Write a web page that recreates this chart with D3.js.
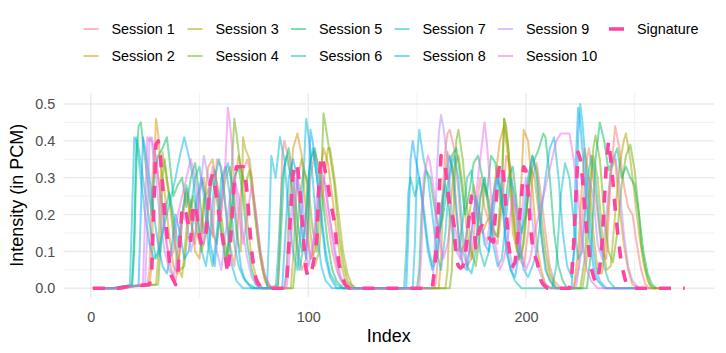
<!DOCTYPE html>
<html>
<head>
<meta charset="utf-8">
<script src="https://cdn.jsdelivr.net/npm/d3@7"></script>
<style>
  body { margin: 0; background: #fff; }
  svg text { font-family: "Liberation Sans", Arial, sans-serif; }
</style>
</head>
<body>
<svg id="chart" width="726" height="353"></svg>
<script>
// ---- data (index, intensity) ----
const seriesNames = ["Session 1", "Session 2", "Session 3", "Session 4", "Session 5",
                     "Session 6", "Session 7", "Session 8", "Session 9", "Session 10", "Signature"];

const session1 = [[1,0],[12,0],[16,0.004],[26,0.008],[27,0.05],[28,0.25],[29,0.38],[30,0.36],[31,0.3],[33,0.22],[35,0.12],[37,0.05],[39,0.02],[41,0.1],[42,0.2],[44,0.27],[46,0.18],[48,0.12],[50,0.26],[52,0.3],[54,0.17],[56,0.14],[58,0.35],[60,0.33],[62,0.22],[64,0.12],[66,0.06],[68,0.2],[70,0.32],[72,0.35],[74,0.3],[76,0.18],[78,0.08],[80,0.02],[82,0],[86,0.01],[87,0.15],[88,0.36],[89,0.4],[91,0.35],[93,0.25],[95,0.12],[97,0.05],[99,0.08],[101,0.3],[103,0.37],[105,0.33],[107,0.25],[109,0.18],[111,0.1],[113,0.05],[115,0.02],[118,0],[158,0],[159,0.04],[160,0.12],[162,0.28],[163,0.38],[164,0.42],[165,0.43],[167,0.38],[169,0.26],[171,0.1],[173,0.06],[175,0.08],[177,0.2],[179,0.3],[181,0.22],[183,0.18],[185,0.14],[187,0.12],[189,0.22],[191,0.36],[193,0.33],[195,0.2],[197,0.08],[199,0.06],[201,0.15],[203,0.3],[205,0.34],[207,0.25],[209,0.15],[211,0.06],[213,0.02],[216,0],[222,0],[224,0.05],[226,0.2],[228,0.35],[229,0.38],[231,0.3],[233,0.2],[235,0.1],[237,0.08],[239,0.3],[241,0.44],[243,0.38],[245,0.28],[247,0.22],[249,0.2],[251,0.12],[253,0.05],[255,0.01],[257,0],[262,0]];
const session2 = [[1,0],[14,0],[18,0.005],[27,0.01],[28,0.06],[29,0.3],[30,0.46],[31,0.42],[32,0.34],[34,0.26],[36,0.15],[38,0.06],[40,0.04],[42,0.18],[44,0.26],[46,0.2],[48,0.1],[50,0.08],[52,0.22],[54,0.33],[56,0.35],[58,0.28],[60,0.16],[62,0.07],[64,0.12],[66,0.28],[68,0.36],[70,0.3],[72,0.18],[74,0.08],[76,0.03],[79,0],[89,0],[90,0.04],[91,0.2],[93,0.38],[95,0.42],[97,0.36],[99,0.2],[101,0.08],[103,0.1],[105,0.28],[107,0.38],[109,0.34],[111,0.25],[113,0.15],[115,0.07],[117,0.02],[120,0],[160,0],[161,0.08],[162,0.25],[164,0.37],[166,0.33],[168,0.2],[170,0.1],[172,0.12],[174,0.2],[176,0.28],[178,0.2],[180,0.15],[182,0.18],[184,0.2],[186,0.3],[188,0.4],[190,0.44],[192,0.35],[194,0.15],[196,0.1],[198,0.3],[199,0.43],[201,0.4],[203,0.27],[205,0.12],[207,0.05],[209,0.01],[212,0],[222,0],[224,0.1],[226,0.3],[227,0.38],[229,0.3],[231,0.15],[233,0.05],[235,0.04],[237,0.15],[239,0.32],[241,0.35],[243,0.22],[245,0.12],[247,0.05],[249,0.01],[252,0],[260,0]];
const session3 = [[1,0],[15,0],[19,0.006],[30,0.01],[31,0.08],[32,0.28],[33,0.37],[34,0.33],[36,0.25],[38,0.14],[40,0.06],[42,0.03],[44,0.16],[46,0.24],[48,0.18],[50,0.12],[52,0.24],[54,0.27],[56,0.15],[58,0.12],[60,0.22],[62,0.3],[64,0.33],[66,0.25],[68,0.12],[69,0.1],[70,0.41],[71,0.38],[73,0.35],[74,0.3],[76,0.2],[78,0.1],[80,0.03],[83,0],[92,0],[93,0.08],[95,0.3],[97,0.35],[99,0.3],[101,0.15],[103,0.06],[105,0.1],[107,0.28],[109,0.38],[110,0.38],[112,0.3],[114,0.2],[116,0.1],[118,0.04],[120,0.01],[122,0],[163,0],[164,0.05],[165,0.2],[167,0.33],[169,0.36],[171,0.28],[173,0.15],[175,0.08],[177,0.12],[179,0.24],[181,0.3],[183,0.2],[185,0.15],[187,0.14],[189,0.25],[190,0.46],[192,0.38],[194,0.2],[196,0.1],[198,0.08],[200,0.2],[202,0.33],[204,0.3],[206,0.2],[208,0.1],[210,0.04],[213,0],[226,0],[228,0.08],[230,0.28],[231,0.36],[233,0.3],[235,0.15],[237,0.05],[239,0.06],[241,0.2],[243,0.33],[245,0.4],[246,0.42],[248,0.35],[250,0.25],[252,0.15],[254,0.07],[256,0.02],[258,0],[262,0]];
const session4 = [[1,0],[15,0],[20,0.005],[31,0.01],[32,0.1],[33,0.3],[34,0.35],[35,0.3],[37,0.22],[39,0.12],[41,0.05],[43,0.06],[45,0.18],[47,0.25],[49,0.2],[51,0.1],[53,0.15],[55,0.28],[57,0.32],[59,0.25],[61,0.15],[63,0.08],[65,0.35],[66,0.46],[67,0.42],[69,0.32],[71,0.28],[73,0.32],[75,0.22],[77,0.12],[79,0.05],[81,0.01],[83,0],[93,0],[94,0.06],[96,0.25],[98,0.32],[100,0.28],[102,0.16],[104,0.1],[106,0.3],[107,0.475],[108,0.44],[110,0.36],[112,0.28],[114,0.15],[116,0.07],[118,0.02],[121,0],[165,0],[166,0.05],[167,0.25],[168,0.4],[169,0.43],[171,0.35],[173,0.22],[175,0.1],[177,0.06],[179,0.15],[181,0.28],[183,0.24],[185,0.16],[187,0.14],[189,0.3],[190,0.46],[191,0.44],[193,0.3],[195,0.15],[197,0.08],[199,0.12],[201,0.25],[203,0.36],[205,0.32],[207,0.2],[209,0.1],[211,0.04],[214,0],[225,0],[227,0.08],[229,0.25],[231,0.38],[232,0.415],[234,0.35],[236,0.2],[238,0.1],[240,0.07],[242,0.15],[244,0.28],[246,0.36],[248,0.39],[250,0.32],[252,0.2],[253,0.12],[255,0.05],[257,0.01],[259,0],[262,0]];
const session5 = [[1,0],[10,0],[14,0.005],[19,0.008],[20,0.1],[21,0.35],[22,0.44],[23,0.45],[24,0.4],[26,0.3],[28,0.2],[29,0.3],[31,0.36],[33,0.38],[35,0.41],[36,0.36],[38,0.25],[40,0.28],[42,0.3],[44,0.22],[46,0.3],[48,0.34],[50,0.25],[52,0.15],[54,0.22],[56,0.3],[58,0.24],[60,0.15],[62,0.08],[64,0.15],[66,0.3],[68,0.33],[70,0.25],[72,0.12],[74,0.05],[76,0.01],[79,0],[86,0],[87,0.1],[89,0.33],[91,0.38],[93,0.3],[95,0.18],[97,0.1],[99,0.2],[101,0.35],[103,0.38],[105,0.3],[107,0.22],[109,0.12],[111,0.05],[113,0.02],[116,0],[150,0],[151,0.05],[152,0.2],[154,0.32],[156,0.3],[158,0.22],[160,0.15],[162,0.2],[164,0.28],[166,0.36],[168,0.38],[170,0.3],[172,0.2],[174,0.26],[176,0.34],[178,0.36],[180,0.3],[182,0.25],[184,0.36],[186,0.34],[188,0.25],[190,0.2],[192,0.3],[194,0.33],[196,0.22],[198,0.15],[200,0.2],[202,0.3],[204,0.35],[206,0.38],[208,0.42],[209,0.41],[211,0.3],[213,0.15],[215,0.06],[217,0.02],[219,0],[228,0],[230,0.1],[232,0.35],[234,0.45],[236,0.4],[238,0.32],[240,0.35],[242,0.38],[244,0.3],[246,0.33],[248,0.3],[250,0.28],[252,0.2],[254,0.1],[256,0.04],[258,0.01],[260,0]];
const session6 = [[1,0],[11,0],[15,0.005],[19,0.008],[20,0.15],[21,0.41],[22,0.38],[24,0.3],[26,0.22],[28,0.14],[30,0.08],[32,0.1],[34,0.2],[36,0.26],[38,0.2],[40,0.12],[42,0.2],[44,0.28],[46,0.22],[48,0.3],[50,0.33],[52,0.25],[54,0.12],[56,0.06],[58,0.15],[60,0.3],[62,0.33],[64,0.25],[66,0.12],[68,0.06],[70,0.03],[73,0.01],[76,0],[85,0],[86,0.08],[88,0.3],[90,0.36],[92,0.3],[94,0.15],[96,0.05],[98,0.12],[100,0.3],[102,0.38],[104,0.3],[106,0.2],[108,0.1],[110,0.04],[113,0.01],[116,0],[144,0],[145,0.1],[146,0.26],[147,0.3],[149,0.25],[151,0.3],[153,0.22],[155,0.12],[157,0.06],[159,0.12],[161,0.22],[163,0.28],[165,0.2],[167,0.12],[169,0.1],[171,0.18],[173,0.3],[175,0.32],[177,0.22],[179,0.1],[181,0.06],[183,0.1],[185,0.25],[187,0.32],[189,0.25],[191,0.12],[193,0.05],[195,0.02],[198,0],[212,0],[214,0.06],[216,0.25],[218,0.34],[220,0.3],[222,0.18],[224,0.08],[226,0.1],[228,0.28],[230,0.36],[232,0.3],[234,0.16],[236,0.06],[238,0.02],[241,0],[255,0]];
const session7 = [[1,0],[10,0],[14,0.004],[18,0.006],[19,0.2],[20,0.41],[21,0.4],[23,0.3],[25,0.2],[27,0.12],[29,0.08],[31,0.1],[33,0.15],[35,0.2],[37,0.25],[39,0.3],[41,0.36],[43,0.41],[45,0.36],[47,0.3],[49,0.2],[51,0.1],[53,0.06],[55,0.15],[57,0.3],[59,0.35],[61,0.28],[63,0.15],[65,0.06],[67,0.02],[70,0],[81,0],[82,0.15],[83,0.36],[85,0.3],[87,0.41],[89,0.35],[91,0.2],[93,0.1],[95,0.05],[97,0.2],[99,0.46],[100,0.42],[102,0.3],[104,0.15],[106,0.06],[108,0.02],[111,0],[148,0],[149,0.12],[150,0.35],[151,0.43],[153,0.35],[155,0.3],[157,0.2],[159,0.1],[161,0.05],[163,0.15],[165,0.3],[167,0.36],[169,0.3],[171,0.15],[173,0.06],[175,0.04],[177,0.1],[179,0.25],[181,0.3],[183,0.22],[185,0.12],[187,0.06],[189,0.08],[191,0.2],[193,0.3],[195,0.25],[197,0.12],[199,0.05],[201,0.03],[203,0.06],[205,0.1],[207,0.2],[209,0.3],[211,0.38],[213,0.41],[215,0.3],[217,0.15],[219,0.06],[221,0.03],[223,0.15],[224,0.4],[225,0.5],[226,0.45],[228,0.3],[230,0.15],[232,0.06],[234,0.02],[237,0],[255,0]];
const session8 = [[1,0],[12,0],[16,0.005],[22,0.008],[23,0.2],[24,0.41],[25,0.38],[27,0.3],[29,0.2],[31,0.12],[33,0.06],[35,0.04],[37,0.1],[39,0.2],[41,0.15],[43,0.08],[45,0.1],[47,0.18],[49,0.25],[51,0.3],[53,0.24],[55,0.12],[57,0.06],[59,0.2],[61,0.3],[63,0.34],[65,0.28],[67,0.15],[69,0.06],[71,0.02],[74,0],[88,0],[89,0.1],[91,0.3],[93,0.35],[95,0.3],[97,0.15],[99,0.08],[100,0.2],[101,0.43],[102,0.4],[104,0.3],[106,0.18],[108,0.08],[110,0.03],[113,0],[145,0],[146,0.15],[147,0.35],[148,0.4],[149,0.36],[151,0.3],[153,0.2],[155,0.1],[157,0.05],[159,0.08],[161,0.18],[163,0.3],[165,0.36],[167,0.3],[169,0.15],[171,0.06],[173,0.05],[175,0.15],[177,0.25],[179,0.2],[181,0.12],[183,0.1],[185,0.2],[187,0.3],[189,0.25],[191,0.1],[193,0.05],[195,0.03],[197,0.1],[199,0.2],[201,0.3],[203,0.36],[205,0.3],[207,0.15],[209,0.05],[211,0.02],[214,0],[221,0],[222,0.1],[223,0.35],[224,0.49],[225,0.45],[227,0.3],[229,0.15],[231,0.06],[233,0.02],[236,0],[255,0]];
const session9 = [[1,0],[13,0],[17,0.005],[25,0.008],[26,0.15],[27,0.41],[28,0.4],[30,0.3],[32,0.18],[34,0.1],[36,0.05],[38,0.03],[40,0.1],[42,0.2],[44,0.18],[46,0.1],[48,0.15],[50,0.25],[52,0.36],[54,0.3],[56,0.18],[58,0.1],[60,0.05],[62,0.15],[64,0.25],[66,0.3],[68,0.25],[70,0.15],[72,0.08],[74,0.03],[77,0],[89,0],[90,0.05],[92,0.2],[94,0.3],[96,0.25],[98,0.12],[100,0.06],[102,0.1],[104,0.25],[106,0.32],[108,0.28],[110,0.18],[112,0.1],[114,0.04],[116,0.01],[119,0],[157,0],[158,0.1],[159,0.3],[160,0.42],[161,0.47],[162,0.44],[164,0.35],[166,0.2],[168,0.1],[170,0.08],[172,0.12],[174,0.2],[176,0.18],[178,0.22],[180,0.16],[182,0.12],[184,0.2],[186,0.28],[188,0.32],[190,0.25],[192,0.12],[194,0.05],[196,0.08],[198,0.2],[200,0.3],[202,0.25],[204,0.12],[206,0.05],[208,0.02],[211,0],[223,0],[225,0.08],[227,0.2],[229,0.3],[231,0.25],[233,0.12],[235,0.08],[237,0.2],[239,0.32],[241,0.36],[243,0.28],[245,0.15],[247,0.06],[249,0.02],[252,0],[258,0]];
const session10 = [[1,0],[12,0],[16,0.004],[24,0.008],[25,0.2],[26,0.41],[27,0.4],[28,0.41],[30,0.35],[32,0.25],[34,0.15],[36,0.08],[38,0.1],[40,0.2],[42,0.25],[44,0.3],[46,0.35],[48,0.3],[50,0.2],[52,0.12],[54,0.25],[56,0.33],[58,0.28],[60,0.2],[62,0.35],[63,0.49],[64,0.45],[66,0.3],[68,0.2],[70,0.12],[72,0.2],[74,0.28],[76,0.2],[78,0.1],[80,0.04],[82,0.01],[84,0],[90,0],[91,0.06],[93,0.2],[95,0.3],[97,0.25],[99,0.15],[101,0.08],[103,0.15],[105,0.25],[107,0.3],[109,0.22],[111,0.15],[113,0.08],[115,0.03],[118,0],[151,0],[152,0.1],[153,0.3],[155,0.36],[156,0.34],[158,0.25],[160,0.15],[162,0.08],[164,0.12],[166,0.2],[168,0.15],[170,0.08],[172,0.06],[174,0.1],[176,0.2],[178,0.3],[180,0.4],[181,0.45],[182,0.4],[184,0.25],[186,0.12],[188,0.05],[190,0.08],[192,0.15],[194,0.25],[196,0.2],[198,0.1],[200,0.05],[202,0.08],[204,0.15],[206,0.2],[208,0.25],[210,0.3],[212,0.35],[214,0.4],[216,0.42],[218,0.42],[220,0.42],[222,0.35],[224,0.25],[226,0.12],[228,0.05],[230,0.02],[233,0],[255,0]];
const signature = [[1,0],[13,0],[17,0.005],[27,0.01],[28,0.04],[29,0.22],[30,0.39],[31,0.4],[32,0.36],[33,0.28],[34,0.2],[35,0.15],[36,0.08],[37,0.035],[39,0.01],[40,0.04],[41,0.13],[42,0.22],[43,0.22],[44,0.2],[45,0.17],[46,0.13],[47,0.22],[48,0.23],[49,0.19],[50,0.14],[51,0.12],[52,0.12],[53,0.15],[54,0.22],[55,0.29],[56,0.31],[57,0.28],[58,0.24],[59,0.2],[60,0.16],[61,0.12],[62,0.08],[63,0.04],[64,0.1],[65,0.2],[66,0.29],[67,0.33],[68,0.33],[70,0.33],[71,0.31],[72,0.25],[73,0.17],[74,0.1],[75,0.055],[76,0.025],[77,0.012],[78,0.005],[80,0],[89,0],[90,0.01],[91,0.11],[92,0.22],[93,0.31],[94,0.34],[95,0.33],[96,0.28],[97,0.2],[98,0.12],[99,0.05],[100,0.03],[101,0.035],[102,0.06],[103,0.09],[104,0.14],[105,0.3],[106,0.36],[107,0.34],[108,0.31],[109,0.28],[110,0.24],[111,0.21],[112,0.18],[113,0.12],[114,0.07],[115,0.04],[116,0.025],[117,0.01],[119,0],[157,0],[158,0.05],[159,0.12],[160,0.24],[161,0.36],[162,0.35],[163,0.33],[164,0.27],[165,0.225],[166,0.21],[167,0.17],[168,0.08],[169,0.06],[170,0.055],[171,0.06],[172,0.08],[173,0.135],[174,0.2],[175,0.25],[176,0.18],[177,0.11],[178,0.145],[179,0.165],[180,0.17],[181,0.16],[182,0.145],[184,0.13],[185,0.125],[186,0.2],[187,0.3],[188,0.34],[189,0.34],[190,0.29],[191,0.21],[192,0.12],[193,0.08],[194,0.06],[195,0.07],[196,0.12],[197,0.19],[198,0.25],[199,0.33],[200,0.32],[201,0.26],[202,0.17],[203,0.12],[204,0.09],[205,0.075],[206,0.05],[207,0.02],[208,0.01],[210,0],[220,0],[221,0.03],[222,0.12],[223,0.25],[224,0.37],[225,0.35],[226,0.3],[227,0.22],[228,0.15],[229,0.1],[230,0.055],[231,0.035],[232,0.015],[233,0.02],[234,0.06],[235,0.12],[236,0.23],[237,0.34],[238,0.4],[239,0.35],[240,0.29],[241,0.22],[242,0.16],[243,0.11],[244,0.06],[245,0.04],[246,0.015],[248,0.005],[249,0],[273,0]];

const xTicks = [0, 100, 200];
const yTicks = [0, 0.1, 0.2, 0.3, 0.4, 0.5];

const allSeries = [session1, session2, session3, session4, session5,
                   session6, session7, session8, session9, session10, signature];
const palette = ["#F8766D", "#DB8E00", "#AEA200", "#64B200", "#00BD5C",
                 "#00C1A7", "#00BADE", "#00A6FF", "#B385FF", "#EF67EB", "#FF449F"];

// ---- layout ----
const svg = d3.select("#chart");
const panel = {left: 63.3, right: 714.3, top: 93, bottom: 297.5};

const x = d3.scaleLinear().domain([-12.6, 286.6]).range([panel.left, panel.right]);
const y = d3.scaleLinear().domain([-0.025, 0.53]).range([panel.bottom, panel.top]);

// minor grid
const xMinor = [50, 150, 250];
const yMinor = d3.range(0.05, 0.5, 0.1);
svg.append("g").selectAll("line").data(xMinor).join("line")
    .attr("x1", d => x(d)).attr("x2", d => x(d))
    .attr("y1", panel.top).attr("y2", panel.bottom)
    .attr("stroke", "#EBEBEB").attr("stroke-width", 0.7);
svg.append("g").selectAll("line").data(yMinor).join("line")
    .attr("x1", panel.left).attr("x2", panel.right)
    .attr("y1", d => y(d)).attr("y2", d => y(d))
    .attr("stroke", "#EBEBEB").attr("stroke-width", 0.7);

// major grid
svg.append("g").selectAll("line").data(xTicks).join("line")
    .attr("x1", d => x(d)).attr("x2", d => x(d))
    .attr("y1", panel.top).attr("y2", panel.bottom)
    .attr("stroke", "#EBEBEB").attr("stroke-width", 1.4);
svg.append("g").selectAll("line").data(yTicks).join("line")
    .attr("x1", panel.left).attr("x2", panel.right)
    .attr("y1", d => y(d)).attr("y2", d => y(d))
    .attr("stroke", "#EBEBEB").attr("stroke-width", 1.4);

// axes (labels only)
const xAxis = svg.append("g")
    .attr("transform", `translate(0,${panel.bottom})`)
    .call(d3.axisBottom(x).tickValues(xTicks).tickSize(0).tickPadding(14.5).tickFormat(d3.format("d")));
const yAxis = svg.append("g")
    .attr("transform", `translate(${panel.left},0)`)
    .call(d3.axisLeft(y).tickValues(yTicks).tickSize(0).tickPadding(8).tickFormat(d3.format(".1f")));
[xAxis, yAxis].forEach(g => {
    g.select(".domain").remove();
    g.selectAll("text")
        .attr("fill", "#4D4D4D")
        .style("font-size", "14.4px")
        .style("font-family", "'Liberation Sans', Arial, sans-serif");
});

// axis titles
svg.append("text")
    .attr("x", (panel.left + panel.right) / 2)
    .attr("y", 342)
    .attr("text-anchor", "middle")
    .attr("font-size", "18px")
    .attr("fill", "#000")
    .text("Index");

svg.append("text")
    .attr("transform", `translate(23,${(panel.top + panel.bottom) / 2}) rotate(-90)`)
    .attr("text-anchor", "middle")
    .attr("font-size", "18px")
    .attr("fill", "#000")
    .text("Intensity (in PCM)");

// lines
const line = d3.line().x(d => x(d[0])).y(d => y(d[1]));
const plot = svg.append("g");
for (let i = 0; i < 10; i++) {
    plot.append("path")
        .attr("d", line(allSeries[i]))
        .attr("fill", "none")
        .attr("stroke", palette[i])
        .attr("stroke-opacity", 0.5)
        .attr("stroke-width", 2)
        .attr("stroke-linejoin", "round");
}
plot.append("path")
    .attr("d", line(signature))
    .attr("fill", "none")
    .attr("stroke", palette[10])
    .attr("stroke-width", 3.6)
    .attr("stroke-dasharray", "12,12")
    .attr("stroke-linejoin", "round");

// legend (column-major, 2 rows)
const legendKeyX = [83.5, 187.5, 291, 394.5, 498, 609];
const legendRowY = [29, 56];
const legend = svg.append("g");
seriesNames.forEach((name, i) => {
    const col = Math.floor(i / 2);
    const row = i % 2;
    const kx = legendKeyX[col];
    const ky = legendRowY[row];
    const isSig = i === 10;
    legend.append("line")
        .attr("x1", kx).attr("x2", kx + 15)
        .attr("y1", ky).attr("y2", ky)
        .attr("stroke", palette[i])
        .attr("stroke-opacity", isSig ? 1 : 0.5)
        .attr("stroke-width", isSig ? 3.6 : 2);
    legend.append("text")
        .attr("x", kx + 28)
        .attr("y", ky)
        .attr("dy", "0.35em")
        .attr("font-size", "14.4px")
        .attr("fill", "#000")
        .text(name);
});
</script>
</body>
</html>
